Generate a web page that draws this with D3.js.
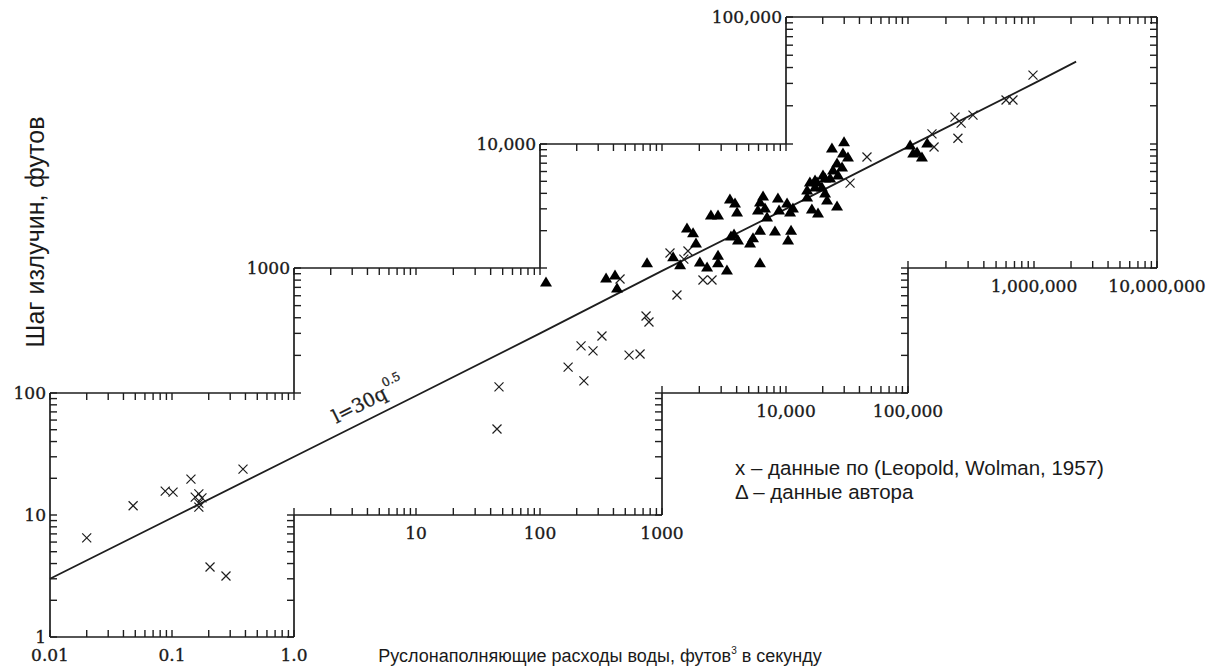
<!DOCTYPE html>
<html>
<head>
<meta charset="utf-8">
<script src="https://cdn.jsdelivr.net/npm/d3@7"></script>
<style>
  html, body { margin: 0; padding: 0; background: #fff; }
  svg { display: block; }
  .tick-label { font-family: "DejaVu Serif", "Liberation Serif", serif; font-size: 17px; fill: #1a1a1a; stroke: #1a1a1a; stroke-width: 0.35px; }
  .title { font-family: "Liberation Sans", Arial, sans-serif; fill: #1a1a1a; }
</style>
</head>
<body>
<svg id="chart" width="1224" height="670"></svg>
<script>
// Bankfull discharge q (ft^3/s) vs meander wavelength l (ft)

// Leopold & Wolman (1957) data: [q, l]
const leopoldWolman = [
  [0.020, 6.5], [0.048, 11.9], [0.088, 15.7], [0.102, 15.4], [0.143, 19.7],
  [0.155, 14.0], [0.166, 14.9], [0.176, 13.8], [0.166, 12.5], [0.166, 11.6],
  [0.205, 3.75], [0.277, 3.16], [0.382, 23.8],
  [45, 50.7], [46.7, 112], [170, 161], [217, 238], [229, 125], [272, 217],
  [322, 286], [537, 201], [661, 205], [740, 413], [782, 370], [1320, 608],
  [2140, 802], [2530, 802], [1160, 1320], [1620, 1370], [1500, 1180], [453, 817],
  [46100, 7850], [33500, 4840], [155000, 12000], [161000, 9460], [249000, 11100],
  [236000, 16300], [264000, 14600], [328000, 16900], [600000, 22200],
  [681000, 22200], [982000, 34900]
];

// Author's data: [q, l]
const authorData = [
  [112, 773], [348, 832], [412, 879], [428, 692], [754, 1100], [1230, 1230],
  [1400, 1060], [1590, 2100], [1780, 1920], [1880, 1590], [2020, 1120],
  [2310, 1020], [2830, 1270], [2830, 1100], [3340, 964], [2480, 2670],
  [2830, 2670], [3530, 3600], [3880, 3340], [4030, 2830], [3600, 1810],
  [4100, 1680], [5130, 1590], [5420, 1750], [6170, 2020], [6170, 1100],
  [8150, 1990], [11000, 2020], [10400, 1680], [6530, 3810], [6170, 3410],
  [5940, 2940], [6770, 3050], [7030, 2580], [8610, 3670], [8790, 2940],
  [10200, 3340], [10800, 2830], [11400, 3050], [14900, 4260], [15700, 4940],
  [17300, 5130], [14900, 3740], [17300, 4500], [19700, 4500], [20900, 5320],
  [20900, 4030], [21700, 3530], [16300, 2990], [18300, 2780], [26200, 3160],
  [23800, 9290], [29900, 10400], [29300, 8450], [32200, 7850], [26200, 7030],
  [28800, 6530], [24300, 6170], [26700, 5620], [23000, 5320], [20100, 5620],
  [18000, 4940], [104000, 9820], [118000, 8610], [129000, 7850],
  [142000, 10200], [110000, 8450], [3810, 1880]
];

// Fitted relation l = 30 q^0.5 and the discharge range it is drawn over
const fitCoef = 30;
const fitExp = 0.5;
const fitRange = [0.01, 2.2e6];

// Stepped frame: each panel spans two decades in l and covers a window in q
const panels = [
  { top: [0.01, 1],  bottom: [0.01, 1],   left: [1, 100],    right: [1, 10],      q: [0.01, 1],  l: [1, 100] },
  { top: [1, 100],   bottom: [1, 1000],   left: [100, 1000], right: [10, 100],    q: [1, 1000],  l: [10, 1000] },
  { top: [100, 1e4], bottom: [1000, 1e5], left: [1000, 1e4], right: [100, 1000],  q: [100, 1e5], l: [100, 1e4] },
  { top: [1e4, 1e7], bottom: [1e5, 1e7],  left: [1e4, 1e5],  right: [1000, 1e5],  q: [1e4, 1e7], l: [1000, 1e5] }
];

// Tick labels: value, text, and the panel edge they sit on
const qTickLabels = [
  { v: 0.01, text: "0.01", at: 1 }, { v: 0.1, text: "0.1", at: 1 }, { v: 1, text: "1.0", at: 1 },
  { v: 10, text: "10", at: 10 }, { v: 100, text: "100", at: 10 }, { v: 1000, text: "1000", at: 10 },
  { v: 1e4, text: "10,000", at: 100 }, { v: 1e5, text: "100,000", at: 100 },
  { v: 1e6, text: "1,000,000", at: 1000 }, { v: 1e7, text: "10,000,000", at: 1000 }
];
const lTickLabels = [
  { v: 1, text: "1", at: 0.01 }, { v: 10, text: "10", at: 0.01 }, { v: 100, text: "100", at: 0.01 },
  { v: 1000, text: "1000", at: 1 }, { v: 1e4, text: "10,000", at: 100 }, { v: 1e5, text: "100,000", at: 1e4 }
];

const xTitle = "Руслонаполняющие расходы воды, футов";
const xTitleSup = "3";
const xTitleTail = " в секунду";
const yTitle = "Шаг излучин, футов";
const legendLines = ["x – данные по (Leopold, Wolman, 1957)", "Δ – данные автора"];

// Scales (log, with per-decade breakpoints of the printed grid)
const x = d3.scaleLog()
  .domain([0.01, 0.1, 1, 10, 100, 1000, 1e4, 1e5, 1e6, 1e7])
  .range([50, 172, 294, 416, 540, 662, 786, 908, 1034, 1157]);
const y = d3.scaleLog()
  .domain([1, 10, 100, 1000, 1e4, 1e5])
  .range([637, 515, 393, 268, 144, 17]);

const svg = d3.select("#chart");
const ink = "#1e1e1e";
const TICK = 7;

function logTicks(a, b) {
  const out = [];
  for (let n = Math.floor(Math.log10(a)); n <= Math.ceil(Math.log10(b)); n++) {
    for (let k = 1; k <= 9; k++) {
      const v = k * Math.pow(10, n);
      if (v >= a * 0.999 && v <= b * 1.001) out.push(v);
    }
  }
  return out;
}

const frame = svg.append("g").attr("stroke", ink).attr("fill", "none");

panels.forEach(p => {
  // horizontal edges: top (ticks point down), bottom (ticks point up)
  [["top", p.l[1], 1], ["bottom", p.l[0], -1]].forEach(([side, lv, dir]) => {
    const [a, b] = p[side];
    const yy = y(lv);
    frame.append("line").attr("x1", x(a)).attr("x2", x(b)).attr("y1", yy).attr("y2", yy)
      .attr("stroke-width", 1.7);
    logTicks(a, b).forEach(v => {
      frame.append("line").attr("x1", x(v)).attr("x2", x(v))
        .attr("y1", yy).attr("y2", yy + dir * TICK).attr("stroke-width", 1.4);
    });
  });
  // vertical edges: left (ticks point right), right (ticks point left)
  [["left", p.q[0], 1], ["right", p.q[1], -1]].forEach(([side, qv, dir]) => {
    const [a, b] = p[side];
    const xx = x(qv);
    frame.append("line").attr("x1", xx).attr("x2", xx).attr("y1", y(a)).attr("y2", y(b))
      .attr("stroke-width", 1.7);
    logTicks(a, b).forEach(v => {
      frame.append("line").attr("x1", xx).attr("x2", xx + dir * TICK)
        .attr("y1", y(v)).attr("y2", y(v)).attr("stroke-width", 1.4);
    });
  });
});

// Tick labels
svg.append("g").selectAll("text").data(qTickLabels).join("text")
  .attr("class", "tick-label")
  .attr("x", d => x(d.v))
  .attr("y", d => y(d.at) + 24)
  .attr("text-anchor", "middle")
  .text(d => d.text);

svg.append("g").selectAll("text").data(lTickLabels).join("text")
  .attr("class", "tick-label")
  .attr("x", d => x(d.at) - 4)
  .attr("y", d => y(d.v) + 6)
  .attr("text-anchor", "end")
  .text(d => d.text);

// Fitted line, sampled at each decade so it follows the scale
const fitQs = [fitRange[0]];
for (let n = -1; n <= 6; n++) if (Math.pow(10, n) < fitRange[1]) fitQs.push(Math.pow(10, n));
fitQs.push(fitRange[1]);
svg.append("path")
  .datum(fitQs.map(q => [q, fitCoef * Math.pow(q, fitExp)]))
  .attr("fill", "none").attr("stroke", ink).attr("stroke-width", 1.8)
  .attr("d", d3.line().x(d => x(d[0])).y(d => y(d[1])));

// Equation label along the line
const qA = 2.3, qB = 23;
const pA = [x(qA), y(fitCoef * Math.pow(qA, fitExp))];
const pB = [x(qB), y(fitCoef * Math.pow(qB, fitExp))];
const ang = Math.atan2(pB[1] - pA[1], pB[0] - pA[0]) * 180 / Math.PI;
const eq = svg.append("text")
  .attr("transform", `translate(${pA[0] - 2},${pA[1] - 11}) rotate(${ang})`)
  .attr("font-family", "DejaVu Serif, serif").attr("font-size", 19).attr("fill", ink)
  .attr("stroke", ink).attr("stroke-width", 0.3);
eq.append("tspan").text("l=30q");
eq.append("tspan").attr("font-size", 12).attr("dy", -11).attr("dx", 1).text(fitExp.toFixed(1));

// Leopold & Wolman points (crosses)
svg.append("g").selectAll("path").data(leopoldWolman).join("path")
  .attr("transform", d => `translate(${x(d[0])},${y(d[1])})`)
  .attr("d", "M-4.5,-4.5L4.5,4.5M-4.5,4.5L4.5,-4.5")
  .attr("stroke", ink).attr("stroke-width", 1.2).attr("fill", "none");

// Author's points (filled triangles)
svg.append("g").selectAll("path").data(authorData).join("path")
  .attr("transform", d => `translate(${x(d[0])},${y(d[1])})`)
  .attr("d", "M0,-5.5L6,4.5L-6,4.5Z")
  .attr("fill", "#000");

// Axis titles
svg.append("text").attr("class", "title")
  .attr("transform", "translate(44,232) rotate(-90)")
  .attr("text-anchor", "middle").attr("font-size", 25)
  .text(yTitle);

const xt = svg.append("text").attr("class", "title")
  .attr("x", 600).attr("y", 662).attr("text-anchor", "middle").attr("font-size", 18);
xt.append("tspan").text(xTitle);
xt.append("tspan").attr("font-size", 10).attr("dy", -8).text(xTitleSup);
xt.append("tspan").attr("dy", 8).text(xTitleTail);

// Legend
svg.append("g").selectAll("text").data(legendLines).join("text")
  .attr("class", "title").attr("font-size", 20.5)
  .attr("x", 735).attr("y", (d, i) => 475 + i * 24)
  .text(d => d);
</script>
</body>
</html>
